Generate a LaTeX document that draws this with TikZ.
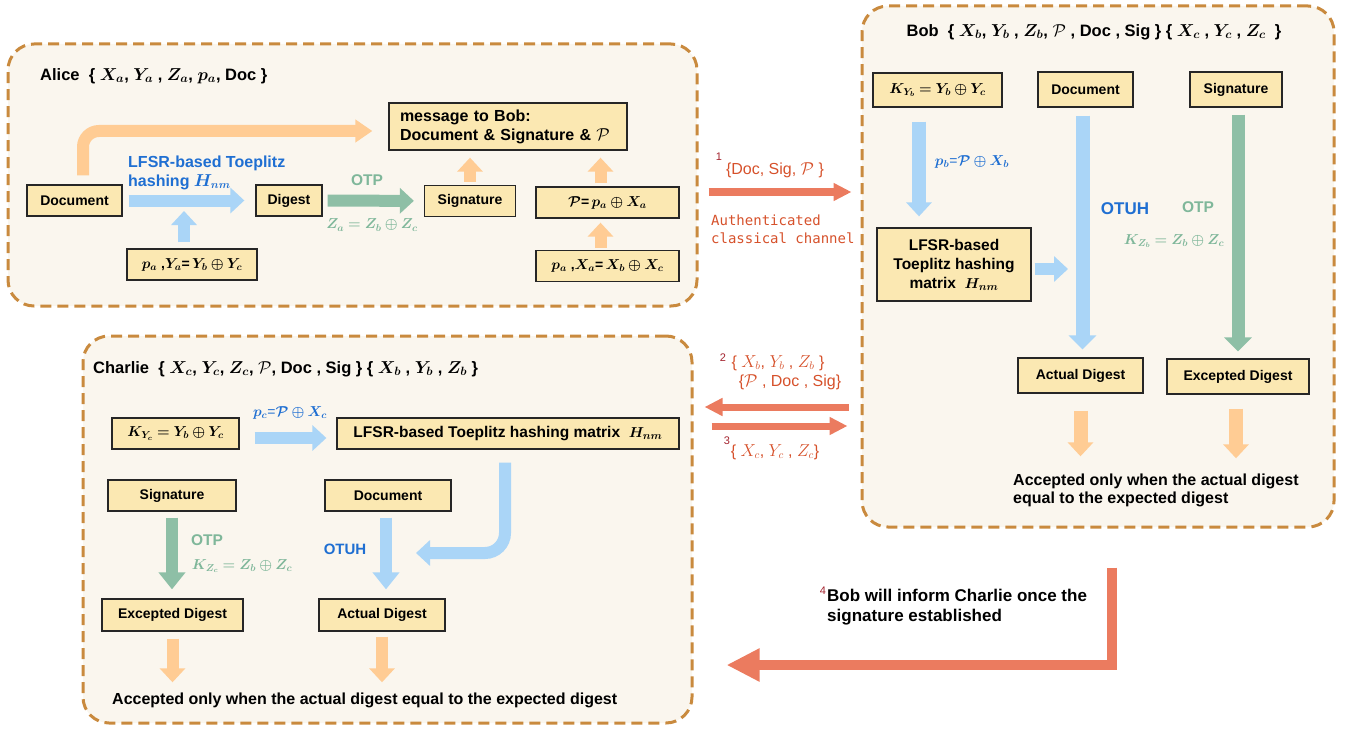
\documentclass[tikz,border=0pt]{standalone}
\usepackage{amsmath,bm}
\usepackage{fontspec}
\setmainfont{Liberation Sans}
\setmonofont{DejaVu Sans Mono}
\usepackage{tikz}
\usetikzlibrary{arrows.meta, positioning, calc}

\definecolor{frame}{HTML}{C98A3E}
\definecolor{panelbg}{HTML}{FAF6EE}
\definecolor{boxfill}{HTML}{FBE8B2}
\definecolor{arrorange}{HTML}{FFCC94}
\definecolor{arrblue}{HTML}{AAD5F7}
\definecolor{arrgreen}{HTML}{8EBFA6}
\definecolor{txtblue}{HTML}{1F6FD2}
\definecolor{txtgreen}{HTML}{7FB79A}
\definecolor{chanred}{HTML}{EB7B5F}
\definecolor{txtred}{HTML}{D6512B}
\definecolor{numred}{HTML}{A3232E}

\newcommand{\fsz}[2]{\fontsize{#1}{#2}\selectfont}

\begin{document}
\begin{tikzpicture}[x=1pt, y=-1pt,
    panel/.style={draw=frame, line width=3pt, dash pattern=on 11pt off 6pt, fill=panelbg, rounded corners=26pt, inner sep=0pt},
    cbox/.style={draw=black!85, line width=1.3pt, fill=boxfill, font=\bfseries\fsz{14}{17}, inner sep=2pt, minimum height=31pt},
    ptitle/.style={font=\bfseries\fsz{16.5}{20}, inner sep=0pt, anchor=west},
    ntext/.style={font=\bfseries\fsz{16}{18}, inner sep=0pt, align=left},
    blabel/.style={text=txtblue, font=\bfseries\fsz{16}{19}, inner sep=0pt},
    glabel/.style={text=txtgreen, font=\bfseries\fsz{15.5}{18}, inner sep=0pt},
    bmath/.style={text=txtblue, font=\fsz{14}{16}, inner sep=0pt},
    gmath/.style={text=txtgreen, font=\fsz{14}{16}, inner sep=0pt},
    chanlab/.style={text=txtred, font=\fsz{16}{18}, inner sep=0pt},
    numlab/.style={text=numred, font=\fsz{11}{13}, inner sep=0pt},
    fat/.style={line width=12pt, -{Triangle[width=25pt,length=14pt]}},
    fatblue/.style={fat, draw=arrblue},
    fatgreen/.style={fat, draw=arrgreen},
    fatorange/.style={fat, draw=arrorange},
    chan/.style={draw=chanred, line width=7pt, -{Triangle[width=17pt,length=18pt]}},
    bigred/.style={draw=chanred, line width=10pt, -{Triangle[width=31pt,length=33pt]}}]
\useasboundingbox (0,0) rectangle (1356,730);

% panels
\node (alice) [panel, minimum width=689pt, minimum height=262pt] at (352.5,175) {};
\node (bob) [panel, minimum width=472pt, minimum height=521pt] at (1098,266.5) {};
\node (charlie) [panel, minimum width=609pt, minimum height=387pt] at (387.5,529.5) {};

% Alice
\node (aliceT) [ptitle] at (40,76) {Alice \ \{ $\bm{X_a}$, $\bm{Y_a}$ , $\bm{Z_a}$, $\bm{p_a}$, Doc \}};
\node (docA) [cbox, minimum width=95pt] at (74.5,200.5) {Document};
\node (digA) [cbox, minimum width=66pt] at (289,200.5) {Digest};
\node (paY) [cbox, minimum width=130pt] at (192,264.5) {$\bm{p_a}$ ,$\bm{Y_a}$=\,$\bm{Y_b \oplus Y_c}$};
\node (msg) [cbox, minimum height=47pt, inner xsep=11pt, text width=216pt, align=left, font=\bfseries\fsz{16}{19}] at (508,126.5) {message to Bob:\\Document \& Signature \& $\mathcal{P}$};
\node (sigA) [cbox, minimum width=91pt] at (470,201) {Signature};
\node (pA) [cbox, minimum width=143pt] at (607.5,202.5) {$\bm{\mathcal{P}}$=\,$\bm{p_a \oplus X_a}$};
\node (paX) [cbox, minimum width=143pt] at (607.5,266) {$\bm{p_a}$ ,$\bm{X_a}$=\,$\bm{X_b \oplus X_c}$};
\node (hashA) [blabel, anchor=west, align=left] at (128,172.5) {LFSR-based Toeplitz\\hashing $\bm{H_{nm}}$};
\node (otpA) [glabel] at (367,180) {OTP};
\node (zA) [gmath] at (372,225) {$\bm{Z_a = Z_b \oplus Z_c}$};
\coordinate (upA) at (184,211);

\draw[fatorange, rounded corners=16pt, shorten <=9pt, shorten >=16pt, -{Triangle[width=22pt,length=17pt]}] ([xshift=8.5pt]docA.north) |- ([yshift=-4.5pt]msg.west);
\draw[fatblue, shorten <=6pt, shorten >=11pt] (docA) -- (digA);
\draw[fatblue, shorten <=6pt] ([xshift=-8pt]paY.north) -- (upA);
\draw[fatgreen, shorten <=5pt, shorten >=10pt] (digA) -- (sigA);
\draw[fatorange, shorten <=3pt, shorten >=7pt] (sigA) -- (sigA |- msg.south);
\draw[fatorange, shorten <=3pt, shorten >=7pt] ([xshift=-7pt]pA.north) -- ([xshift=-7pt]pA.north |- msg.south);
\draw[fatorange, shorten <=2pt, shorten >=4pt] ([xshift=-7pt]paX.north) -- ([xshift=-7pt]pA.south);

% Bob
\node (bobT) [ptitle, anchor=center] at (1094,32) {Bob \ \{ $\bm{X_b}$, $\bm{Y_b}$ , $\bm{Z_b}$, $\mathcal{P}$ , Doc , Sig \} \{ $\bm{X_c}$ , $\bm{Y_c}$ , $\bm{Z_c}$ \ \}};
\node (kYb) [cbox, minimum width=129pt, minimum height=34pt] at (937.5,90) {$\bm{K_{Y_b} = Y_b \oplus Y_c}$};
\node (docB) [cbox, minimum width=95pt, minimum height=35pt] at (1085.5,89.5) {Document};
\node (sigB) [cbox, minimum width=92pt, minimum height=35pt] at (1236,89.5) {Signature};
\node (lfsrB) [cbox, minimum width=154pt, minimum height=73pt, align=center, font=\bfseries\fsz{15.5}{19}] at (954,264.5) {LFSR-based\\Toeplitz hashing\\matrix \ $\bm{H_{nm}}$};
\node (actB) [cbox, minimum width=125pt, minimum height=35pt] at (1080.5,375.5) {Actual Digest};
\node (expB) [cbox, minimum width=142pt, minimum height=35pt] at (1238,376.5) {Excepted Digest};
\node (accB) [ntext, anchor=west] at (1013,490) {Accepted only when the actual digest\\equal to the expected digest};
\node (pbB) [bmath] at (972,162) {$\bm{p_b}$=$\bm{\mathcal{P}\oplus X_b}$};
\node (otuhB) [blabel, font=\bfseries\fsz{17}{20}] at (1125,209) {OTUH};
\node (otpB) [glabel] at (1198,207) {OTP};
\node (kzB) [gmath] at (1174,241) {$\bm{K_{Z_b} = Z_b \oplus Z_c}$};
\coordinate (hB) at (1068,269);

\draw[fatblue, line width=14pt, shorten <=14pt, shorten >=11pt] ([xshift=-18.5pt]kYb.south) -- ([xshift=-18.5pt]kYb.south |- lfsrB.north);
\draw[fatblue, shorten <=3pt] ([yshift=-4.5pt]lfsrB.east) -- (hB);
\draw[fatblue, line width=14pt, -{Triangle[width=27pt,length=14pt]}, shorten <=8pt, shorten >=8pt] ([xshift=-3pt]docB.south) -- ([xshift=-3pt]docB.south |- actB.north);
\draw[fatgreen, line width=13pt, -{Triangle[width=27pt,length=14pt]}, shorten <=7pt, shorten >=7pt] (sigB.south -| expB) -- (expB.north);
\draw[fatorange, line width=14pt, shorten <=17pt, shorten >=17pt] (actB) -- (actB |- accB.north);
\draw[fatorange, line width=14pt, shorten <=14pt, shorten >=15pt] ([xshift=-2pt]expB.south) -- ([xshift=-2pt]expB.south |- accB.north);

% Charlie
\node (charT) [ptitle] at (93,369) {Charlie \ \{ $\bm{X_c}$, $\bm{Y_c}$, $\bm{Z_c}$, $\mathcal{P}$, Doc , Sig \} \{ $\bm{X_b}$ , $\bm{Y_b}$ , $\bm{Z_b}$ \}};
\node (kYc) [cbox, minimum width=127pt] at (175.5,433.5) {$\bm{K_{Y_c} = Y_b \oplus Y_c}$};
\node (lfsrC) [cbox, minimum width=342pt, font=\bfseries\fsz{15.5}{18}] at (508,433.5) {LFSR-based Toeplitz hashing matrix \ $\bm{H_{nm}}$};
\node (sigC) [cbox, minimum width=128pt] at (172,495.5) {Signature};
\node (docC) [cbox, minimum width=126pt] at (388,495.5) {Document};
\node (expC) [cbox, minimum width=141pt, minimum height=32pt] at (172.5,615) {Excepted Digest};
\node (actC) [cbox, minimum width=126pt, minimum height=32pt] at (382,615) {Actual Digest};
\node (accC) [ntext, anchor=west] at (112,700) {Accepted only when the actual digest equal to the expected digest};
\node (pcC) [bmath] at (290,413) {$\bm{p_c}$=$\bm{\mathcal{P}\oplus X_c}$};
\node (otpC) [glabel] at (207,540) {OTP};
\node (kzC) [gmath] at (242,566) {$\bm{K_{Z_c} = Z_b \oplus Z_c}$};
\node (otuhC) [blabel, font=\bfseries\fsz{15}{18}] at (345,549) {OTUH};
\coordinate (hC) at (416,553);

\draw[fatblue, shorten <=15pt, shorten >=10pt] ([yshift=-4.5pt]kYc.east) -- ([yshift=-4.5pt]kYc.east -| lfsrC.west);
\draw[fatblue, rounded corners=20pt, shorten <=13pt] ([xshift=-3pt]lfsrC.south) |- (hC);
\draw[fatgreen, shorten <=6pt, shorten >=9pt, -{Triangle[width=26pt,length=17pt]}] (sigC) -- (sigC |- expC.north);
\draw[fatblue, shorten <=6pt, shorten >=9pt, -{Triangle[width=26pt,length=17pt]}] ([xshift=-2pt]docC.south) -- ([xshift=-2pt]docC.south |- actC.north);
\draw[fatorange, shorten <=7pt, shorten >=10pt] (expC) -- (expC |- accC.north);
\draw[fatorange, shorten <=5pt, shorten >=10pt] (actC) -- (actC |- accC.north);

% channels
\coordinate (c1) at (0,192);
\coordinate (c2) at (0,407);
\coordinate (c3) at (0,426);
\coordinate (c4) at (0,665);
\draw[chan, shorten <=10pt, shorten >=9pt] (alice.east |- c1) -- (bob.west |- c1);
\draw[chan, shorten <=12pt, shorten >=11pt] (bob.west |- c2) -- (charlie.east |- c2);
\draw[chan, shorten <=18pt, shorten >=13pt] (charlie.east |- c3) -- (bob.west |- c3);
\draw[bigred, shorten <=39pt, shorten >=33pt] ([xshift=14pt]bob.south) |- (charlie.east |- c4);

\node (n1) [numlab] at (719,157) {1};
\node (lab1) [chanlab] at (775,170) {\{Doc, Sig, $\mathcal{P}$ \}};
\node (authch) [chanlab, font=\ttfamily\fsz{14}{18}, anchor=west, align=left] at (711,229) {Authenticated\\classical channel};
\node (n2) [numlab] at (723,358) {2};
\node (lab2a) [chanlab] at (778,363) {\{ $X_b$, $Y_b$ , $Z_b$ \}};
\node (lab2b) [chanlab] at (790,382) {\{$\mathcal{P}$ , Doc , Sig\}};
\node (n3) [numlab] at (727,441) {3};
\node (lab3) [chanlab] at (775,452) {\{ $X_c$, $Y_c$ , $Z_c$\}};
\node (n4) [numlab] at (823,591) {4};
\node (lab4) [ntext, font=\bfseries\fsz{17}{20}, anchor=west] at (827,607) {Bob will inform Charlie once the\\signature established};
\end{tikzpicture}
\end{document}
